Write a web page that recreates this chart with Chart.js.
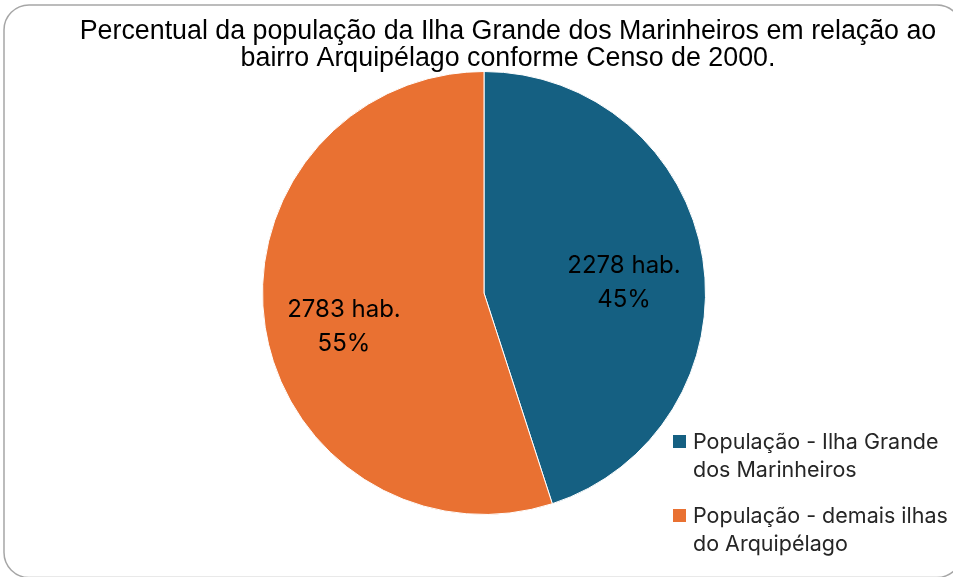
<!DOCTYPE html>
<html>
<head>
<meta charset="utf-8">
<script src="https://cdn.jsdelivr.net/npm/chart.js@4"></script>
<style>
	html, body { margin: 0; padding: 0; background: #fff; }
	#wrap { position: relative; width: 953px; height: 577px; }
</style>
</head>
<body>
<div id="wrap"><canvas id="chart" width="953" height="577"></canvas></div>
<script>
// Censo 2000 data
const titleLines = [
	'Percentual da população da Ilha Grande dos Marinheiros em relação ao',
	'bairro Arquipélago conforme Censo de 2000.'
];
const categories = [
	['População - Ilha Grande', 'dos Marinheiros'],
	['População - demais ilhas', 'do Arquipélago']
];
const population = [2278, 2783];
const percentLabels = ['45%', '55%'];
const colors = ['#156082', '#E97132'];

const labelFont = '24px Inter, "Open Sans", sans-serif';

// frame around the chart
const framePlugin = {
	id: 'frame',
	beforeDraw(chart) {
		const ctx = chart.ctx;
		ctx.save();
		ctx.strokeStyle = '#a6a6a6';
		ctx.lineWidth = 1.5;
		ctx.beginPath();
		ctx.roundRect(4, 5, 958, 572.5, 25);
		ctx.stroke();
		ctx.restore();
	}
};

// title, drawn off-center like in the original
const titlePlugin = {
	id: 'offTitle',
	afterDraw(chart) {
		const ctx = chart.ctx;
		ctx.save();
		ctx.fillStyle = '#000';
		ctx.font = '26.8px "Liberation Sans", Arial, sans-serif';
		ctx.textAlign = 'center';
		ctx.textBaseline = 'alphabetic';
		titleLines.forEach((line, i) => ctx.fillText(line, 508, 39 + i * 27));
		ctx.restore();
	}
};

// value + percent inside each slice
const sliceLabels = {
	id: 'sliceLabels',
	afterDatasetsDraw(chart) {
		const ctx = chart.ctx;
		const meta = chart.getDatasetMeta(0);
		ctx.save();
		ctx.fillStyle = '#000';
		ctx.font = labelFont;
		ctx.textAlign = 'center';
		ctx.textBaseline = 'middle';
		meta.data.forEach((arc, i) => {
			const p = arc.getProps(['x', 'y', 'startAngle', 'endAngle', 'outerRadius'], true);
			const mid = (p.startAngle + p.endAngle) / 2;
			const d = p.outerRadius * 0.64;
			const x = p.x + Math.cos(mid) * d;
			const y = p.y + Math.sin(mid) * d + 12;
			ctx.fillText(population[i] + ' hab.', x, y - 17);
			ctx.fillText(percentLabels[i], x, y + 17);
		});
		ctx.restore();
	}
};

// legend at the bottom right, wrapped over two lines
const sideLegend = {
	id: 'sideLegend',
	afterDraw(chart) {
		const ctx = chart.ctx;
		const ds = chart.data.datasets[0];
		ctx.save();
		ctx.font = '21.5px Inter, "Open Sans", sans-serif';
		ctx.textBaseline = 'alphabetic';
		chart.data.labels.forEach((lines, i) => {
			const top = 449 + i * 74;
			ctx.fillStyle = ds.backgroundColor[i];
			ctx.fillRect(673, top - 14, 13, 13);
			ctx.fillStyle = '#262626';
			lines.forEach((t, j) => ctx.fillText(t, 693, top + j * 28));
		});
		ctx.restore();
	}
};

new Chart(document.getElementById('chart'), {
	type: 'pie',
	data: {
		labels: categories,
		datasets: [{
			data: population,
			backgroundColor: colors,
			borderColor: '#ffffff',
			borderWidth: 1
		}]
	},
	options: {
		responsive: false,
		animation: false,
		layout: { padding: { left: 262, right: 247, top: 71, bottom: 62 } },
		plugins: {
			legend: { display: false },
			tooltip: { enabled: false },
			title: { display: false }
		}
	},
	plugins: [framePlugin, titlePlugin, sliceLabels, sideLegend]
});
</script>
</body>
</html>
